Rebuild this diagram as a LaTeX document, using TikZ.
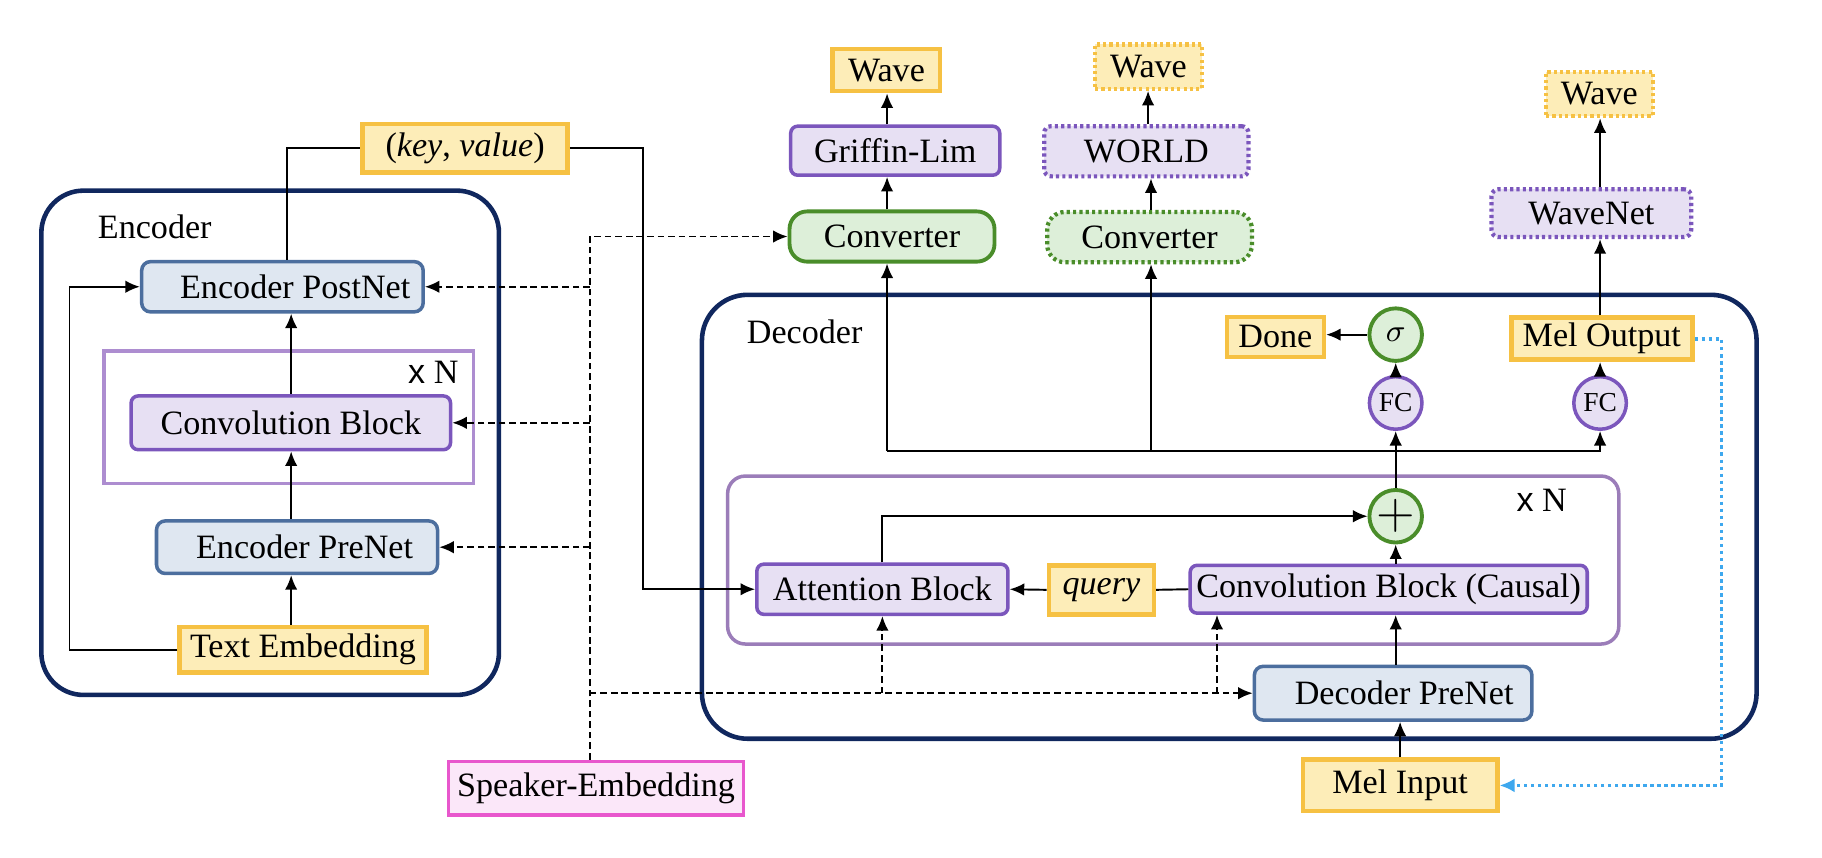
\documentclass[tikz,border=0pt]{standalone}
\usepackage{fontspec}
\setmainfont{Liberation Serif}
\newfontfamily\xsans{Liberation Sans}
\usetikzlibrary{arrows.meta,calc}
\newdimen\ux \ux=0.01168cm
\newcommand\mainfs{\fontsize{9.7}{11}\selectfont}
\definecolor{navy}{RGB}{16,39,94}
\definecolor{bdraw}{RGB}{76,110,158}
\definecolor{bfill}{RGB}{223,231,241}
\definecolor{pdraw}{RGB}{123,86,188}
\definecolor{pfill}{RGB}{231,224,243}
\definecolor{xnenc}{RGB}{173,141,208}
\definecolor{xndec}{RGB}{155,125,185}
\definecolor{ydraw}{RGB}{246,193,67}
\definecolor{yfill}{RGB}{253,237,184}
\definecolor{gdraw}{RGB}{74,141,42}
\definecolor{gfill}{RGB}{221,239,217}
\definecolor{mdraw}{RGB}{232,87,205}
\definecolor{mfill}{RGB}{251,231,249}
\definecolor{bluel}{RGB}{62,168,238}
\begin{document}
\begin{tikzpicture}[x=0.01168cm,y=-0.01168cm,
  base/.style={draw, line width=1pt, inner sep=0pt, font=\mainfs, text=black},
  bluebox/.style={base, draw=bdraw, fill=bfill, rounded corners=2.5pt},
  purbox/.style={base, draw=pdraw, fill=pfill, rounded corners=2pt},
  yelbox/.style={base, draw=ydraw, fill=yfill, line width=1.3pt},
  grnbox/.style={base, draw=gdraw, fill=gfill, rounded corners=5pt, line width=1.1pt},
  pinkbox/.style={base, draw=mdraw, fill=mfill, line width=1.1pt},
  dotted box/.style={dash pattern=on 0.9pt off 0.9pt, line width=1.2pt},
  circp/.style={circle, draw=pdraw, fill=pfill, line width=1pt, inner sep=0pt, minimum size=45*\ux},
  circg/.style={circle, draw=gdraw, fill=gfill, line width=1.1pt, inner sep=0pt, minimum size=45*\ux},
  container/.style={draw=navy, line width=1.3pt},
  arr/.style={line width=0.55pt, -{Latex[length=1.45mm,width=1.25mm]}},
  plain/.style={line width=0.55pt},
  dsh/.style={line width=0.6pt, dash pattern=on 1.9pt off 1.1pt},
  bdot/.style={draw=bluel, line width=1.1pt, dash pattern=on 1pt off 1pt, -{Latex[length=1.5mm,width=1.4mm]}}
]
\useasboundingbox (0,0) rectangle (1560,734.6);

% containers
\draw[container, rounded corners=12pt] (35.4,163.2) rectangle (427.2,595);
\draw[container, rounded corners=13pt] (601,252.4) rectangle (1504,632.5);
\draw[draw=xnenc, line width=1pt] (89,300.3) rectangle (405.3,414);
\draw[draw=xndec, line width=1pt, rounded corners=5pt] (623,407.6) rectangle (1386,551.4);

\node[font=\mainfs] (enclab) at (132.5,194) {Encoder};
\node[font=\mainfs] (declab) at (689,284) {Decoder};
\node[font=\mainfs] (xnenc) at (371,319) {{\xsans x} N};
\node[font=\mainfs] (xndec) at (1320,428) {{\xsans x} N};

% encoder nodes
\node[bluebox, minimum width=241*\ux, minimum height=43*\ux] (postnet) at (241.8,245.5) {\hspace*{22\ux}Encoder PostNet};
\node[purbox, minimum width=273.5*\ux, minimum height=46*\ux] (convenc) at (249,362) {Convolution Block};
\node[bluebox, minimum width=240.6*\ux, minimum height=45*\ux] (prenet) at (254.3,468.5) {\hspace*{13\ux}Encoder PreNet};
\node[yelbox, minimum width=211.3*\ux, minimum height=38.8*\ux] (textemb) at (259.4,556.2) {Text Embedding};
\node[yelbox, minimum width=175.6*\ux, minimum height=41.5*\ux] (keyval) at (398.2,127) {(\textit{key}, \textit{value})};
\node[pinkbox, minimum width=252.6*\ux, minimum height=46*\ux] (speaker) at (510.3,675) {Speaker-Embedding};

% top vocoders
\node[grnbox, minimum width=175.5*\ux, minimum height=43*\ux] (conv1) at (763.75,202.5) {Converter};
\node[purbox, minimum width=179*\ux, minimum height=42*\ux] (gl) at (766.5,129) {Griffin-Lim};
\node[yelbox, minimum width=92*\ux, minimum height=36*\ux] (wave1) at (759,60) {Wave};
\node[grnbox, dotted box, minimum width=175.4*\ux, minimum height=43*\ux] (conv2) at (984.3,203) {Converter};
\node[purbox, dotted box, minimum width=175*\ux, minimum height=43*\ux] (world) at (981.5,129.5) {WORLD};
\node[yelbox, dotted box, minimum width=91.5*\ux, minimum height=38*\ux] (wave2) at (983.3,57) {Wave};
\node[purbox, dotted box, minimum width=171*\ux, minimum height=41*\ux] (wavenet) at (1362.5,182.5) {WaveNet};
\node[yelbox, dotted box, minimum width=91.3*\ux, minimum height=38*\ux] (wave3) at (1369.4,80.5) {Wave};

% decoder nodes
\node[purbox, minimum width=215*\ux, minimum height=43*\ux] (attn) at (755.5,504.5) {Attention Block};
\node[yelbox, minimum width=90*\ux, minimum height=42*\ux] (query) at (943,505) {\textit{query}};
\node[purbox, minimum width=340*\ux, minimum height=41*\ux] (causal) at (1189,504.5) {Convolution Block (Causal)};
\node[bluebox, minimum width=237.6*\ux, minimum height=46*\ux] (decpre) at (1192.8,593.5) {\hspace*{19\ux}Decoder PreNet};
\node[yelbox, minimum width=166.4*\ux, minimum height=44*\ux] (melin) at (1198.8,672.5) {Mel Input};
\node[circg, font=\fontsize{15}{15}\selectfont] (plus) at (1195,442) {$+$};
\node[circp, font=\fontsize{7.8}{9}\selectfont] (fc1) at (1195,345) {FC};
\node[circg, font=\fontsize{9}{10}\selectfont] (sigma) at (1195,286.5) {$\sigma$};
\node[circp, font=\fontsize{7.8}{9}\selectfont] (fc2) at (1370,345) {FC};
\node[yelbox, minimum width=155*\ux, minimum height=36*\ux] (melout) at (1371.5,290) {Mel Output};
\node[yelbox, minimum width=83*\ux, minimum height=34*\ux] (done) at (1092,288.5) {Done};

% helper coordinates
\coordinate (spine) at (249.3,0);
\coordinate (loopx) at (59.5,400);
\coordinate (kvx) at (246,0);
\coordinate (kvr) at (550.5,300);
\coordinate (dtop) at (505,202.5);
\coordinate (cb) at (1042,0);
\coordinate (h1) at (759.5,386);
\coordinate (h2) at (985.5,386);
\coordinate (w2x) at (983,0);
\coordinate (bx) at (1474,0);

% encoder connectors
\draw[arr] (textemb.north -| spine) -- (prenet.south -| spine);
\draw[arr] (prenet.north -| spine) -- (convenc.south -| spine);
\draw[arr] (convenc.north -| spine) -- (postnet.south -| spine);
\draw[arr] (textemb.west) -| (loopx) |- (postnet.west);
\draw[plain] (postnet.north -| kvx) |- (keyval.west);
\draw[arr] (keyval.east) -| (kvr) |- (attn.west);

% speaker embedding dashed
\draw[dsh, arr] (speaker.north -| dtop) -- (dtop) -- (conv1.west);
\draw[dsh, arr] (dtop |- postnet.east) -- (postnet.east);
\draw[dsh, arr] (dtop |- convenc.east) -- (convenc.east);
\draw[dsh, arr] (dtop |- prenet.east) -- (prenet.east);
\draw[dsh, arr] (dtop |- decpre.west) -- (decpre.west);
\draw[dsh, arr] (attn.south |- decpre.west) -- (attn.south);
\draw[dsh, arr] (cb |- decpre.west) -- (cb |- causal.south);

% decoder connectors
\draw[arr] (melin.north) -- (melin.north |- decpre.south);
\draw[arr] (decpre.north -| plus) -- (causal.south -| plus);
\draw[arr] (causal.north -| plus) -- (plus.south);
\draw[plain] (causal.west) -- (query.east);
\draw[arr] (query.west) -- (attn.east);
\draw[arr] (attn.north) |- (plus.west);
\draw[arr] (plus.north) -- (fc1.south);
\draw[arr] (fc1.north) -- (sigma.south);
\draw[arr] (sigma.west) -- (sigma.west -| done.east);
\draw[arr] (h1) -| (fc2.south);
\draw[arr] (fc2.north) -- (fc2.north |- melout.south);
\draw[arr] (h1) -- (h1 |- conv1.south);
\draw[arr] (h2) -- (h2 |- conv2.south);

% vocoders
\draw[arr] (h1 |- conv1.north) -- (h1 |- gl.south);
\draw[arr] (h1 |- gl.north) -- (h1 |- wave1.south);
\draw[arr] (h2 |- conv2.north) -- (h2 |- world.south);
\draw[arr] (w2x |- world.north) -- (w2x |- wave2.south);
\draw[arr] (melout.north -| fc2) -- (fc2 |- wavenet.south);
\draw[arr] (fc2 |- wavenet.north) -- (fc2 |- wave3.south);

% mel feedback
\draw[bdot] (melout.east) -| (bx |- melin.east) -- (melin.east);
\end{tikzpicture}
\end{document}
